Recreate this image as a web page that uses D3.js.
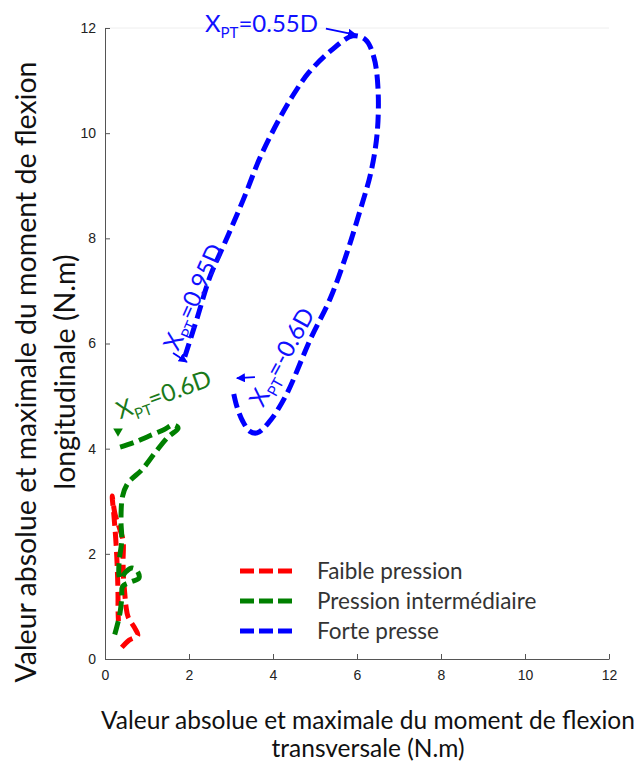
<!DOCTYPE html>
<html lang="fr">
<head>
<meta charset="UTF-8">
<title>Moment de flexion</title>
<script src="https://d3js.org/d3.v7.min.js"></script>
<style>
html, body { margin: 0; padding: 0; background: white; }
body { width: 643px; height: 765px; overflow: hidden; }
.tick text { font-family: 'Liberation Sans', Arial, sans-serif; font-size: 14px; fill: #222; }
.tick line, .domain { stroke: #555; }
.xlabel { font-family: 'Lato', sans-serif; font-size: 24.5px; fill: #111; }
.ylabel { font-family: 'Lato', sans-serif; font-size: 28.5px; fill: #111; }
.legend text { font-family: 'Lato', sans-serif; font-size: 22.5px; fill: #333; }
.note { font-family: 'Lato', sans-serif; font-size: 24px; }
</style>
</head>
<body>
<div id="chart"></div>
<script>
// ---- data (transversal, longitudinal) ----
const xTicks = [0, 2, 4, 6, 8, 10, 12];
const yTicks = [0, 2, 4, 6, 8, 10, 12];

const faibleX = [0.40, 0.58, 0.78, 0.70, 0.55, 0.50, 0.47, 0.44, 0.43, 0.43, 0.34, 0.24, 0.17, 0.21, 0.25, 0.28, 0.30, 0.31, 0.31, 0.32];
const faibleY = [0.22, 0.36, 0.45, 0.60, 0.80, 1.00, 1.25, 1.55, 1.85, 2.25, 2.50, 2.75, 3.10, 2.75, 2.35, 1.95, 1.55, 1.20, 0.95, 0.72];

const interX = [0.36, 0.70, 1.05, 1.40, 1.62, 1.74, 1.50, 1.19, 0.88, 0.55, 0.42, 0.38, 0.40, 0.34, 0.33, 0.36, 0.50, 0.64, 0.76, 0.81, 0.60, 0.42, 0.40, 0.36, 0.31, 0.24, 0.19];
const interY = [4.03, 4.12, 4.24, 4.36, 4.45, 4.39, 4.22, 3.92, 3.60, 3.35, 3.10, 2.64, 2.26, 1.88, 1.62, 1.52, 1.66, 1.73, 1.68, 1.54, 1.46, 1.38, 1.16, 0.89, 0.70, 0.49, 0.36];

const forteX = [1.90, 2.20, 2.50, 2.90, 3.30, 3.70, 4.17, 4.50, 4.85, 5.35, 5.90, 6.20, 6.40, 6.50, 6.48, 6.33, 6.10, 5.75, 5.36, 4.90, 4.30, 3.90, 3.62, 3.45, 3.28, 3.14, 3.05];
const forteY = [5.75, 6.50, 7.27, 8.00, 8.75, 9.55, 10.30, 10.75, 11.15, 11.55, 11.85, 11.78, 11.45, 10.85, 10.00, 9.25, 8.60, 7.70, 6.85, 6.10, 5.00, 4.50, 4.30, 4.33, 4.52, 4.80, 5.10];

const seriesNames = ["Faible pression", "Pression intermédiaire", "Forte presse"];
const seriesColors = ["#ff0000", "#008000", "#0000ff"];

// ---- size ----
const totalWidth = 643, totalHeight = 765;
const svg = d3.select("#chart").append("svg")
  .attr("width", totalWidth).attr("height", totalHeight);

const x = d3.scaleLinear().domain([0, 12]).range([105, 609]);
const y = d3.scaleLinear().domain([0, 12]).range([659, 28]);

// faint top frame
svg.append("line")
  .attr("x1", x(0)).attr("x2", x(12)).attr("y1", y(12)).attr("y2", y(12))
  .attr("stroke", "#eee");

// ---- axes ----
svg.append("g")
  .attr("transform", `translate(0,${y(0)})`)
  .call(d3.axisBottom(x).tickValues(xTicks).tickSize(-5).tickSizeOuter(0).tickPadding(11));

svg.append("g")
  .attr("transform", `translate(${x(0)},0)`)
  .call(d3.axisLeft(y).tickValues(yTicks).tickSize(-5).tickSizeOuter(0).tickPadding(9));

svg.selectAll(".tick line, .domain").attr("stroke", "#555");

// ---- axis labels ----
const xl = svg.append("text").attr("class", "xlabel").attr("text-anchor", "middle");
xl.append("tspan").attr("x", 368).attr("y", 729).text("Valeur absolue et maximale du moment de flexion");
xl.append("tspan").attr("x", 368).attr("y", 757).text("transversale (N.m)");

const yl = svg.append("text").attr("class", "ylabel").attr("text-anchor", "middle")
  .attr("transform", "translate(0,372) rotate(-90)");
yl.append("tspan").attr("x", 0).attr("y", 36).text("Valeur absolue et maximale du moment de flexion");
yl.append("tspan").attr("x", 0).attr("y", 75).text("longitudinale (N.m)");

// ---- curves ----
const line = d3.line().x(d => x(d[0])).y(d => y(d[1])).curve(d3.curveCatmullRom);
const series = [
  d3.zip(faibleX, faibleY),
  d3.zip(interX, interY),
  d3.zip(forteX, forteY)
];

svg.append("g").selectAll("path")
  .data(series)
  .join("path")
  .attr("d", line)
  .attr("fill", "none")
  .attr("stroke", (d, i) => seriesColors[i])
  .attr("stroke-width", 5)
  .attr("stroke-dasharray", "14,6")
  .attr("stroke-linejoin", "round");

// start marker on the green curve
svg.append("path")
  .attr("d", d3.symbol(d3.symbolTriangle, 40))
  .attr("transform", `translate(${x(0.31)},${y(4.33)}) rotate(180)`)
  .attr("fill", "#008000");

// ---- annotations ----
const defs = svg.append("defs");
defs.append("marker").attr("id", "head")
  .attr("viewBox", "0 0 10 10").attr("refX", 9).attr("refY", 5)
  .attr("markerWidth", 5).attr("markerHeight", 5).attr("orient", "auto")
  .append("path").attr("d", "M0,0L10,5L0,10z").attr("fill", "#0000ff");

function note(px, py, angle, label, color) {
  const t = svg.append("text").attr("class", "note").attr("fill", color)
    .attr("transform", `translate(${x(px)},${y(py)}) rotate(${angle})`);
  t.append("tspan").text("X");
  t.append("tspan").attr("font-size", "15px").attr("dy", 6).text("PT");
  t.append("tspan").attr("dy", -6).text(label);
}
note(2.38, 11.92, 0, "=0.55D", "#1010ff");
note(1.74, 5.84, -66, "=0.95D", "#1010ff");
note(3.76, 4.77, -61, "=-0.6D", "#1010ff");
note(0.36, 4.56, -20, "=0.6D", "#1a7a1a");

const arrows = [
  [[5.26, 11.99], [5.98, 11.87]],
  [[1.62, 5.82], [1.95, 5.65]],
  [[3.57, 5.36], [3.14, 5.34]]
];
svg.append("g").selectAll("line")
  .data(arrows)
  .join("line")
  .attr("x1", d => x(d[0][0])).attr("y1", d => y(d[0][1]))
  .attr("x2", d => x(d[1][0])).attr("y2", d => y(d[1][1]))
  .attr("stroke", "#0000ff").attr("stroke-width", 1.8)
  .attr("marker-end", "url(#head)");

// ---- legend ----
const legend = svg.append("g").attr("class", "legend");
const rows = legend.selectAll("g")
  .data(seriesNames)
  .join("g")
  .attr("transform", (d, i) => `translate(0,${571 + i * 30})`);
rows.append("line")
  .attr("x1", 240).attr("x2", 292)
  .attr("stroke", (d, i) => seriesColors[i])
  .attr("stroke-width", 5)
  .attr("stroke-dasharray", "14,5");
rows.append("text")
  .attr("x", 317).attr("y", 8)
  .text(d => d);
</script>
</body>
</html>
